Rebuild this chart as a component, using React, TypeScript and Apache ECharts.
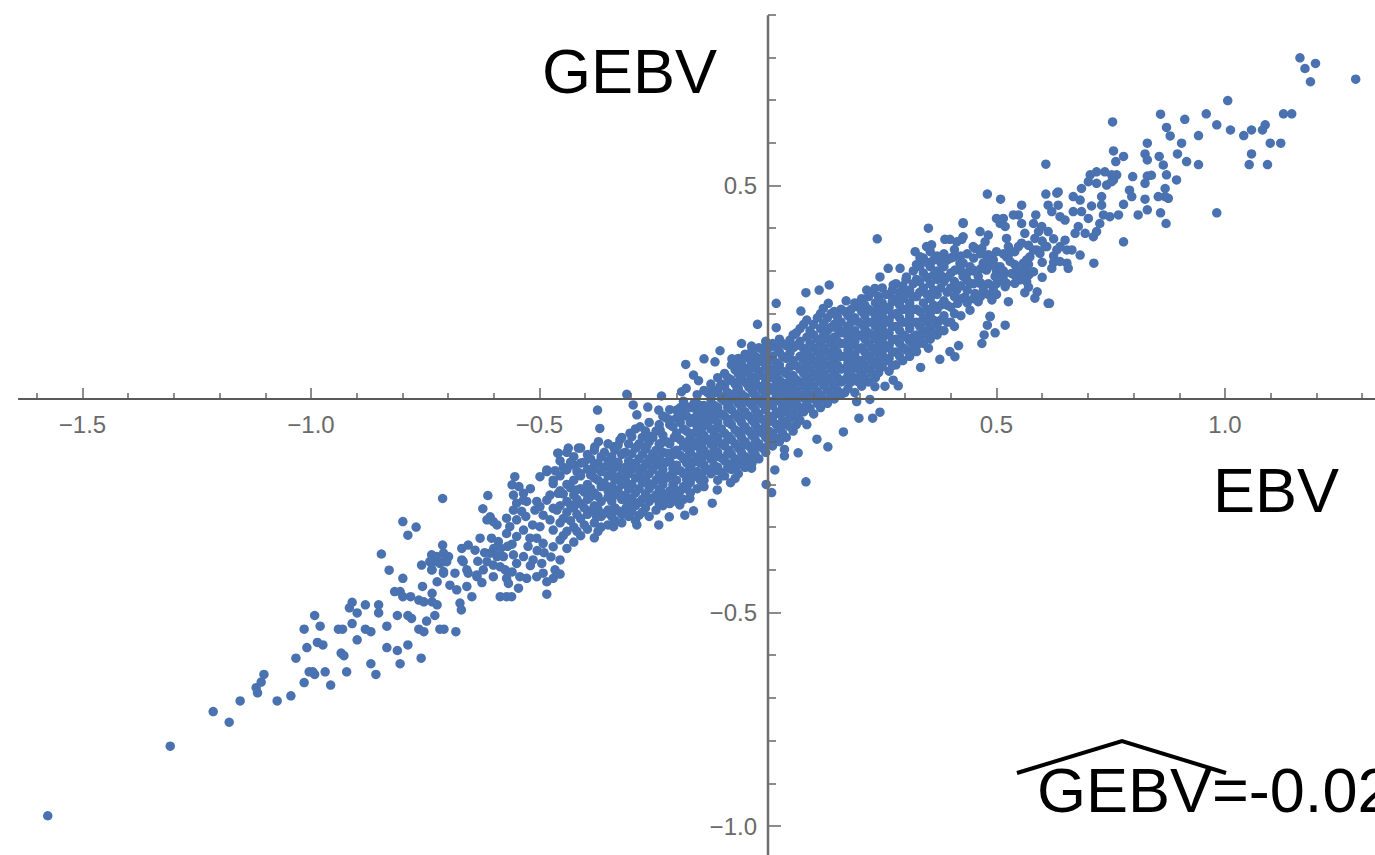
import React, { useEffect, useRef } from "react";
import * as echarts from "echarts";

const xAxisTickLabels = [-1.5, -1.0, -0.5, 0.5, 1.0];
const yAxisTickLabels = [0.5, -0.5, -1.0];
const axisXSpan = [-1.641, 1.5];
const axisYSpan = [0.899, -1.5];

const lowerTail: number[][] = [
  [-1.576,-0.976],[-1.308,-0.813],[-1.214,-0.732],[-1.179,-0.757],[-1.155,-0.707],[-1.117,-0.688],[-1.120,-0.676],[-1.109,-0.663],[-1.103,-0.645],
  [-1.074,-0.707],[-1.044,-0.695],[-1.015,-0.664],[-1.033,-0.607],[-1.009,-0.582],[-1.015,-0.539],[-0.992,-0.507],[-0.980,-0.532],[-0.986,-0.570],
  [-0.974,-0.576],[-1.004,-0.639],[-0.992,-0.645],[-0.996,-0.639],[-0.969,-0.639],[-0.957,-0.670],[-0.922,-0.639],[-0.934,-0.595],[-0.928,-0.601],
  [-0.940,-0.539],[-0.931,-0.539],[-0.910,-0.526],[-0.899,-0.564],[-0.869,-0.620],[-0.858,-0.645],[-0.881,-0.539],[-0.869,-0.545],[-0.899,-0.501],
  [-0.910,-0.476],[-0.916,-0.489],[-0.881,-0.482],[-0.852,-0.482],[-0.852,-0.501],[-0.834,-0.532],[-0.834,-0.582],[-0.811,-0.589],[-0.788,-0.576],
  [-0.805,-0.620],[-0.759,-0.607],[-0.811,-0.507],[-0.788,-0.507],[-0.780,-0.514],[-0.764,-0.539],[-0.753,-0.545],[-0.747,-0.520],[-0.729,-0.507],
  [-0.718,-0.539],[-0.709,-0.539],[-0.683,-0.545],[-0.829,-0.401],[-0.799,-0.420],[-0.817,-0.451],[-0.805,-0.451],[-0.799,-0.463],[-0.782,-0.463],
  [-0.764,-0.471],[-0.753,-0.475],[-0.735,-0.475],[-0.724,-0.482],[-0.756,-0.439],[-0.735,-0.455],[-0.674,-0.478],[-0.671,-0.494],[-0.724,-0.428],
  [-0.710,-0.408],[-0.685,-0.408],[-0.696,-0.436],[-0.681,-0.447],[-0.659,-0.439],[-0.648,-0.463],[-0.758,-0.389],[-0.736,-0.385],[-0.710,-0.381],
  [-0.667,-0.381],[-0.735,-0.400],[-0.656,-0.408],[-0.637,-0.416],
];

const lowerMiddle: number[][] = [
  [-0.712,-0.233],[-0.799,-0.287],[-0.770,-0.300],[-0.788,-0.319],[-0.846,-0.363],[-0.613,-0.226],[-0.554,-0.182],[-0.560,-0.201],[-0.624,-0.257],
  [-0.608,-0.276],[-0.615,-0.283],[-0.601,-0.287],[-0.593,-0.295],[-0.499,-0.182],[-0.484,-0.170],[-0.466,-0.168],[-0.460,-0.127],[-0.557,-0.225],
  [-0.535,-0.221],[-0.550,-0.244],[-0.528,-0.240],[-0.557,-0.260],[-0.539,-0.263],[-0.572,-0.279],[-0.550,-0.283],[-0.565,-0.299],[-0.535,-0.307],
  [-0.572,-0.315],[-0.550,-0.322],[-0.521,-0.326],[-0.506,-0.240],[-0.484,-0.237],[-0.470,-0.256],[-0.492,-0.272],[-0.477,-0.283],[-0.499,-0.299],
  [-0.470,-0.307],[-0.506,-0.326],[-0.492,-0.338],[-0.470,-0.346],[-0.514,-0.377],[-0.506,-0.416],[-0.492,-0.408],[-0.484,-0.428],[-0.484,-0.457],
  [-0.466,-0.400],[-0.455,-0.377],[-0.459,-0.221],[-0.470,-0.198],[-0.477,-0.225],[-0.630,-0.326],[-0.605,-0.326],[-0.590,-0.334],[-0.608,-0.361],
  [-0.593,-0.369],[-0.579,-0.369],[-0.615,-0.381],[-0.601,-0.389],[-0.586,-0.393],[-0.623,-0.400],[-0.601,-0.416],[-0.637,-0.412],[-0.626,-0.430],
  [-0.572,-0.420],[-0.568,-0.432],[-0.543,-0.416],[-0.528,-0.420],[-0.550,-0.385],[-0.535,-0.369],[-0.557,-0.365],[-0.586,-0.463],[-0.572,-0.463],
  [-0.561,-0.463],[-0.546,-0.443],[-0.712,-0.342],[-0.736,-0.365],[-0.725,-0.369],[-0.710,-0.361],[-0.699,-0.369],[-0.740,-0.381],[-0.718,-0.385],
  [-0.703,-0.381],[-0.736,-0.400],[-0.710,-0.404],[-0.670,-0.350],[-0.656,-0.342],[-0.641,-0.354],[-0.670,-0.377],[-0.659,-0.400],
  [-0.545,-0.205],[-0.52,-0.21],[-0.51,-0.26],[-0.53,-0.275],[-0.515,-0.295],[-0.56,-0.34],[-0.525,-0.345],[-0.505,-0.355],[-0.49,-0.36],[-0.475,-0.37],
  [-0.52,-0.39],[-0.495,-0.385],[-0.47,-0.42],[-0.455,-0.41],[-0.6,-0.35],[-0.585,-0.35],[-0.57,-0.345],[-0.62,-0.36],[-0.635,-0.38],[-0.575,-0.4],[-0.56,-0.405],
];

const coreOutliers: number[][] = [
  [-0.373,-0.026],[-0.368,-0.069],[-0.309,0.011],[-0.233,0.007],[-0.180,0.081],[-0.163,0.056],[-0.152,0.043],[-0.179,0.025],[-0.189,0.017],[-0.140,0.094],
  [-0.105,0.113],[-0.116,0.087],[-0.079,0.094],[-0.058,0.130],[-0.023,0.175],[0.018,0.224],[0.018,0.167],[-0.036,0.124],[-0.010,0.119],[0.012,0.126],
  [-0.111,-0.213],[-0.122,-0.244],[-0.004,-0.200],[0.008,-0.219],[0.015,-0.166],[-0.036,-0.162],[-0.041,-0.143],[-0.072,-0.186],[-0.082,-0.196],[-0.069,-0.159],
  [-0.171,-0.233],[-0.163,-0.262],[-0.182,-0.272],[-0.193,-0.248],[-0.216,-0.276],[-0.239,-0.295],[-0.287,-0.295],
  [0.239,0.375],[0.351,0.400],[0.427,0.413],[0.322,0.345],[0.333,0.329],[0.358,0.361],[0.387,0.374],[0.398,0.374],[0.424,0.374],[0.453,0.353],
  [0.134,0.267],[0.112,0.255],[0.083,0.249],[0.072,0.206],[0.171,0.230],[0.132,0.224],[0.121,0.212],[0.263,0.306],[0.289,0.306],[0.245,0.286],[0.303,0.286],
  [0.216,0.255],[0.234,0.259],[0.274,0.267],[0.616,0.224],[0.519,0.173],[0.497,0.155],[0.486,0.193],[0.480,0.173],[0.473,0.150],[0.468,0.130],
  [0.417,0.125],[0.398,0.111],[0.409,0.099],[0.376,0.093],[0.334,0.074],[0.351,0.119],[0.325,0.111],[0.285,0.031],[0.274,0.044],[0.256,0.030],[0.234,0.029],
  [0.223,-0.001],[0.194,-0.006],[0.245,-0.031],[0.229,-0.045],[0.199,-0.045],[0.165,-0.077],[0.131,-0.112],[0.107,-0.094],[0.066,-0.126],[0.036,-0.118],[0.036,-0.133],[0.083,-0.194],
];

// each row: x value, then the y values read along that column of the dense band
const coreBand: number[][] = [
  [-0.455,-0.145,-0.18,-0.215,-0.25,-0.29,-0.33],
  [-0.44,-0.125,-0.165,-0.2,-0.24,-0.265,-0.31,-0.35],
  [-0.425,-0.135,-0.155,-0.19,-0.225,-0.255,-0.3,-0.335],
  [-0.41,-0.115,-0.15,-0.18,-0.21,-0.245,-0.28,-0.32],
  [-0.395,-0.13,-0.165,-0.2,-0.235,-0.27,-0.305],
  [-0.38,-0.12,-0.155,-0.185,-0.22,-0.25,-0.29,-0.325],
  [-0.365,-0.135,-0.17,-0.205,-0.24,-0.275,-0.3],
  [-0.35,-0.105,-0.145,-0.18,-0.215,-0.23,-0.26,-0.295],
  [-0.335,-0.12,-0.16,-0.19,-0.225,-0.255,-0.285],
  [-0.32,-0.09,-0.13,-0.165,-0.2,-0.235,-0.27,-0.29],
  [-0.305,-0.105,-0.145,-0.175,-0.21,-0.245,-0.275],
  [-0.29,-0.07,-0.115,-0.15,-0.185,-0.22,-0.25,-0.285],
  [-0.275,-0.09,-0.13,-0.165,-0.195,-0.235,-0.265],
  [-0.26,-0.055,-0.1,-0.14,-0.175,-0.21,-0.24,-0.275],
  [-0.245,-0.075,-0.12,-0.155,-0.19,-0.225,-0.26],
  [-0.23,-0.04,-0.085,-0.125,-0.165,-0.2,-0.235,-0.25],
  [-0.215,-0.025,-0.06,-0.105,-0.145,-0.18,-0.215,-0.245],
  [-0.2,-0.045,-0.08,-0.12,-0.155,-0.19,-0.225,-0.24],
  [-0.185,-0.005,-0.035,-0.07,-0.11,-0.14,-0.175,-0.205,-0.235],
  [-0.17,-0.02,-0.055,-0.09,-0.125,-0.16,-0.195,-0.22],
  [-0.155,0.01,-0.03,-0.065,-0.1,-0.135,-0.17,-0.21],
  [-0.14,0.02,-0.015,-0.05,-0.085,-0.12,-0.155,-0.19,-0.205],
  [-0.125,0.035,0.0,-0.035,-0.07,-0.105,-0.14,-0.175],
  [-0.11,0.05,0.015,-0.02,-0.055,-0.09,-0.125,-0.16,-0.19],
  [-0.095,0.06,0.03,-0.005,-0.04,-0.08,-0.11,-0.145,-0.18],
  [-0.08,0.08,0.045,0.01,-0.025,-0.06,-0.095,-0.13,-0.165],
  [-0.065,0.095,0.06,0.025,-0.01,-0.045,-0.08,-0.115,-0.15,-0.175],
  [-0.05,0.105,0.07,0.04,0.005,-0.03,-0.065,-0.1,-0.135,-0.16],
  [-0.035,0.115,0.085,0.05,0.02,-0.015,-0.05,-0.085,-0.12,-0.15],
  [-0.02,0.12,0.095,0.065,0.03,0.0,-0.035,-0.07,-0.105,-0.14],
  [-0.005,0.135,0.105,0.075,0.04,0.01,-0.025,-0.06,-0.09,-0.125],
  [0.01,0.13,0.1,0.07,0.05,0.02,-0.015,-0.045,-0.08,-0.11],
  [0.025,0.14,0.11,0.08,0.045,0.025,-0.005,-0.035,-0.07,-0.1],
  [0.04,0.125,0.095,0.06,0.03,0.0,-0.03,-0.06,-0.09],
  [0.055,0.15,0.12,0.09,0.055,0.035,0.005,-0.025,-0.075],
  [0.07,0.165,0.135,0.1,0.07,0.04,0.01,-0.02,-0.05],
  [0.085,0.185,0.145,0.11,0.08,0.05,0.02,-0.01,-0.06],
  [0.1,0.175,0.15,0.12,0.09,0.06,0.03,0.0,-0.035],
  [0.115,0.2,0.165,0.13,0.1,0.07,0.04,0.01,-0.02],
  [0.13,0.19,0.16,0.14,0.11,0.08,0.05,0.02,-0.01],
  [0.145,0.205,0.175,0.145,0.12,0.09,0.06,0.03,0.0],
  [0.16,0.21,0.18,0.155,0.13,0.1,0.07,0.04,0.01],
  [0.175,0.195,0.17,0.145,0.115,0.085,0.055,0.025],
  [0.19,0.225,0.19,0.16,0.135,0.105,0.08,0.05,0.015],
  [0.205,0.235,0.205,0.175,0.15,0.12,0.09,0.06,0.03],
  [0.22,0.24,0.21,0.18,0.155,0.13,0.1,0.07,0.04],
  [0.235,0.225,0.195,0.17,0.14,0.11,0.08,0.05],
  [0.25,0.26,0.225,0.195,0.165,0.135,0.105,0.075],
  [0.265,0.245,0.215,0.185,0.155,0.125,0.095,0.065],
  [0.28,0.27,0.235,0.2,0.17,0.14,0.11,0.08],
  [0.295,0.265,0.235,0.21,0.18,0.15,0.12,0.09],
  [0.31,0.255,0.225,0.195,0.165,0.135,0.1],
  [0.325,0.315,0.28,0.24,0.21,0.18,0.15,0.125],
  [0.34,0.33,0.295,0.26,0.225,0.19,0.16,0.13],
  [0.355,0.345,0.31,0.27,0.235,0.2,0.165,0.14],
  [0.37,0.335,0.3,0.28,0.245,0.21,0.175,0.15],
  [0.385,0.34,0.31,0.275,0.23,0.195,0.16],
  [0.4,0.33,0.295,0.26,0.215,0.18],
];

// second pass over the same band: marks lying between the first pass's rows
const coreInfill: number[][] = [
  [-0.448,-0.16,-0.222,-0.28,-0.32],
  [-0.432,-0.148,-0.208,-0.248,-0.285],
  [-0.418,-0.17,-0.235,-0.27,-0.31],
  [-0.402,-0.148,-0.218,-0.255,-0.295],
  [-0.388,-0.14,-0.178,-0.21,-0.262],
  [-0.372,-0.15,-0.19,-0.228,-0.258,-0.31],
  [-0.358,-0.125,-0.16,-0.198,-0.268],
  [-0.342,-0.135,-0.17,-0.205,-0.24,-0.275],
  [-0.328,-0.108,-0.148,-0.182,-0.215,-0.262],
  [-0.312,-0.125,-0.16,-0.19,-0.225,-0.258],
  [-0.298,-0.088,-0.128,-0.165,-0.2,-0.232,-0.265],
  [-0.282,-0.105,-0.14,-0.178,-0.21,-0.242,-0.272],
  [-0.268,-0.075,-0.118,-0.155,-0.185,-0.222,-0.255],
  [-0.252,-0.09,-0.128,-0.165,-0.2,-0.232],
  [-0.238,-0.06,-0.105,-0.14,-0.178,-0.212,-0.245],
  [-0.222,-0.045,-0.1,-0.148,-0.185,-0.225],
  [-0.208,-0.065,-0.125,-0.162,-0.2,-0.232],
  [-0.192,-0.02,-0.055,-0.095,-0.132,-0.168,-0.215],
  [-0.178,-0.04,-0.075,-0.115,-0.15,-0.188,-0.21],
  [-0.162,-0.01,-0.045,-0.08,-0.11,-0.148,-0.182],
  [-0.148,-0.015,-0.05,-0.083,-0.118,-0.15,-0.19],
  [-0.132,0.015,-0.022,-0.06,-0.095,-0.13,-0.165],
  [-0.118,0.02,-0.015,-0.048,-0.085,-0.118,-0.155],
  [-0.102,0.035,0.0,-0.035,-0.07,-0.105,-0.138,-0.172],
  [-0.088,0.05,0.015,-0.02,-0.055,-0.095,-0.128,-0.16],
  [-0.072,0.068,0.035,0.0,-0.035,-0.072,-0.105,-0.14],
  [-0.058,0.082,0.048,0.012,-0.02,-0.055,-0.09,-0.125],
  [-0.042,0.095,0.06,0.028,-0.008,-0.04,-0.075,-0.11,-0.14],
  [-0.028,0.1,0.072,0.04,0.008,-0.025,-0.06,-0.095,-0.13],
  [-0.012,0.115,0.088,0.055,0.02,-0.012,-0.048,-0.08,-0.115],
  [0.002,0.12,0.09,0.058,0.028,-0.005,-0.04,-0.075,-0.105],
  [0.018,0.12,0.085,0.06,0.035,0.005,-0.03,-0.06,-0.092],
  [0.032,0.13,0.1,0.065,0.038,0.012,-0.018,-0.05,-0.08],
  [0.048,0.138,0.108,0.075,0.045,0.018,-0.012,-0.045,-0.065],
  [0.062,0.155,0.125,0.078,0.045,0.02,-0.01,-0.04,-0.06],
  [0.078,0.175,0.118,0.09,0.06,0.03,0.002,-0.03],
  [0.092,0.16,0.13,0.1,0.07,0.04,0.01,-0.022],
  [0.108,0.19,0.14,0.11,0.08,0.05,0.018,-0.01],
  [0.122,0.178,0.15,0.12,0.09,0.06,0.032,0.0],
  [0.138,0.2,0.168,0.13,0.1,0.07,0.04,0.01],
  [0.152,0.192,0.165,0.135,0.11,0.08,0.05,0.02],
  [0.168,0.205,0.16,0.13,0.1,0.072,0.045,0.015],
  [0.182,0.21,0.18,0.155,0.125,0.095,0.068,0.04],
  [0.198,0.215,0.18,0.148,0.118,0.09,0.07,0.04],
  [0.212,0.22,0.195,0.165,0.14,0.11,0.08,0.05],
  [0.228,0.25,0.205,0.18,0.15,0.12,0.09,0.06],
  [0.242,0.24,0.21,0.18,0.152,0.122,0.092,0.062],
  [0.258,0.245,0.21,0.18,0.15,0.12,0.09],
  [0.272,0.255,0.228,0.198,0.17,0.138,0.11,0.078],
  [0.288,0.25,0.22,0.19,0.16,0.13,0.1],
  [0.302,0.28,0.245,0.21,0.18,0.145,0.115],
  [0.318,0.3,0.27,0.24,0.21,0.18,0.145,0.118],
  [0.332,0.31,0.275,0.25,0.205,0.17,0.14],
  [0.348,0.32,0.285,0.245,0.21,0.18,0.15],
  [0.362,0.325,0.29,0.255,0.22,0.185,0.155],
  [0.378,0.32,0.29,0.26,0.22,0.185,0.16],
  [0.392,0.325,0.285,0.25,0.22,0.18],
  [0.408,0.35,0.275,0.24,0.2,0.17],
  [0.422,0.335,0.3,0.265,0.235,0.195],
  [0.436,0.34,0.295,0.255,0.225],
  [0.45,0.33,0.3,0.27,0.235],
  [0.465,0.34,0.305,0.272,0.24],
  [0.482,0.338,0.31,0.27,0.245],
  [0.5,0.345,0.3,0.27,0.245],
  [0.515,0.34,0.3,0.29],
  [0.54,0.345,0.315,0.29],
  [0.57,0.36,0.315,0.29,0.262],
  [0.6,0.37,0.32,0.285],
  [0.625,0.375,0.335,0.32],
  [-0.265,-0.11,-0.15,-0.195,-0.23],
  [-0.235,-0.105,-0.145,-0.185,-0.215],
  [-0.205,-0.09,-0.13,-0.17,-0.21],
  [-0.175,-0.1,-0.135,-0.17,-0.2],
  [-0.145,-0.03,-0.068,-0.105,-0.14,-0.175],
  [-0.115,-0.035,-0.07,-0.1,-0.135,-0.168],
  [-0.085,-0.012,-0.048,-0.088,-0.12,-0.152],
  [-0.055,-0.005,-0.038,-0.072,-0.108,-0.142],
  [-0.025,-0.005,-0.042,-0.078,-0.112],
  [0.005,-0.008,-0.052,-0.085],
];

const bandShoulders: number[][] = [
  [-0.295,-0.014],[-0.287,-0.037],[-0.263,-0.019],[-0.239,-0.026],[-0.2,-0.026],[-0.178,-0.018],[-0.156,-0.010],[-0.134,-0.018],[-0.214,-0.049],[-0.193,-0.041],
  [-0.163,-0.049],[-0.134,-0.041],[-0.112,-0.033],[-0.149,-0.026],[-0.105,0.029],[-0.083,0.044],[-0.061,0.060],[-0.039,0.076],[-0.018,0.091],[-0.025,0.052],
  [-0.047,0.037],[-0.068,0.021],[-0.090,0.013],[-0.003,0.052],[-0.010,0.021],[-0.032,0.013],[-0.054,0.005],[-0.120,0.013],[-0.047,0.099],[-0.068,0.076],[-0.025,0.083],[-0.061,0.044],
  [-0.324,-0.096],[-0.338,-0.112],[-0.302,-0.080],[-0.280,-0.065],[-0.317,-0.127],[-0.287,-0.112],[-0.258,-0.088],[-0.236,-0.073],[-0.346,-0.151],[-0.317,-0.174],
  [-0.287,-0.159],[-0.251,-0.143],[-0.222,-0.127],[-0.360,-0.197],[-0.331,-0.213],[-0.302,-0.205],[-0.265,-0.197],[-0.229,-0.182],[-0.207,-0.166],[-0.382,-0.166],
  [-0.411,-0.174],[-0.441,-0.166],[-0.470,-0.190],[-0.455,-0.221],[-0.419,-0.213],[-0.389,-0.229],[-0.426,-0.252],[-0.462,-0.260],[-0.499,-0.252],[-0.535,-0.237],
  [-0.346,-0.268],[-0.309,-0.252],[-0.375,-0.276],[-0.338,-0.299],[-0.459,-0.127],[-0.437,-0.115],[-0.415,-0.115],[-0.379,-0.112],[-0.371,-0.100],[-0.484,-0.166],
  [0.380,0.318],[0.405,0.333],[0.427,0.318],[0.449,0.302],[0.479,0.326],[0.500,0.310],[0.522,0.333],[0.544,0.302],[0.566,0.326],[0.588,0.349],[0.610,0.357],[0.632,0.349],
  [0.435,0.279],[0.464,0.271],[0.493,0.263],[0.522,0.271],[0.551,0.279],[0.573,0.294],[0.333,0.333],[0.347,0.357],
];

const upperMiddle: number[][] = [
  [0.493,0.326],[0.471,0.318],[0.508,0.310],[0.478,0.302],[0.497,0.287],[0.460,0.287],[0.515,0.279],[0.442,0.310],[0.420,0.318],[0.427,0.287],[0.442,0.271],
  [0.409,0.302],[0.471,0.255],[0.493,0.255],[0.519,0.263],[0.540,0.271],[0.559,0.302],[0.566,0.275],[0.453,0.247],[0.431,0.239],[0.460,0.228],[0.490,0.232],
  [0.442,0.208],[0.413,0.255],[0.406,0.333],[0.415,0.224],[0.427,0.411],[0.427,0.380],[0.413,0.368],[0.464,0.392],[0.482,0.384],[0.475,0.368],[0.468,0.353],
  [0.449,0.357],[0.522,0.376],[0.526,0.357],[0.526,0.337],[0.530,0.322],[0.589,0.251],[0.584,0.236],[0.613,0.224],[0.562,0.249],[0.526,0.228],[0.486,0.194],
  [0.480,0.480],[0.509,0.468],[0.555,0.454],[0.548,0.431],[0.555,0.411],[0.537,0.431],[0.562,0.388],[0.500,0.423],[0.515,0.423],[0.508,0.411],[0.519,0.404],
  [0.606,0.357],[0.595,0.341],[0.581,0.349],[0.555,0.365],[0.573,0.333],[0.548,0.357],[0.559,0.318],[0.581,0.298],[0.548,0.302],[0.555,0.287],[0.533,0.294],
  [0.586,0.431],[0.599,0.404],[0.613,0.392],[0.581,0.411],[0.592,0.392],[0.584,0.376],[0.613,0.454],[0.635,0.454],[0.621,0.439],[0.608,0.480],[0.635,0.485],
  [0.668,0.474],[0.683,0.466],[0.708,0.452],[0.686,0.439],[0.668,0.439],[0.701,0.423],[0.650,0.419],[0.639,0.427],[0.679,0.404],[0.694,0.388],[0.672,0.388],
  [0.683,0.337],[0.665,0.349],[0.650,0.372],[0.639,0.357],[0.654,0.349],[0.639,0.322],[0.654,0.318],[0.657,0.306],[0.621,0.306],[0.632,0.482],[0.608,0.550],
];

const upperTail: number[][] = [
  [0.754,0.649],[0.859,0.667],[0.912,0.655],[0.872,0.636],[0.880,0.616],[0.830,0.599],[0.905,0.599],[0.896,0.574],[0.916,0.556],[0.756,0.581],[0.778,0.568],
  [0.761,0.556],[0.825,0.574],[0.830,0.560],[0.856,0.568],[0.865,0.548],[0.798,0.521],[0.830,0.522],[0.825,0.505],[0.872,0.525],[0.894,0.513],[0.869,0.493],
  [0.869,0.474],[0.854,0.474],[0.876,0.470],[0.791,0.489],[0.796,0.474],[0.825,0.468],[0.830,0.443],[0.810,0.431],[0.859,0.436],[0.871,0.411],[0.778,0.456],
  [0.778,0.368],[0.713,0.318],[0.767,0.431],[0.748,0.427],[0.734,0.431],[0.726,0.411],[0.719,0.392],[0.712,0.380],[0.763,0.525],[0.756,0.513],[0.741,0.501],
  [0.730,0.474],[0.730,0.454],[0.705,0.525],[0.719,0.532],[0.737,0.532],[0.752,0.525],[0.701,0.509],[0.719,0.505],[0.686,0.493],[0.839,0.524],[0.752,0.509],
  [1.164,0.799],[1.175,0.774],[1.198,0.786],[1.187,0.743],[1.286,0.749],[1.006,0.699],[0.959,0.668],[0.982,0.642],[1.012,0.630],[1.041,0.617],[1.058,0.630],
  [1.082,0.630],[1.088,0.642],[0.942,0.617],[1.128,0.668],[1.146,0.668],[1.099,0.599],[1.122,0.599],[1.058,0.574],[1.053,0.549],[1.093,0.549],[0.942,0.549],[0.982,0.436],
];

const columnsToPoints = (rows: number[][]) => rows.flatMap((row) => row.slice(1).map((y) => [row[0], y]));
const allPoints = [
  ...lowerTail, ...lowerMiddle, ...coreOutliers, ...columnsToPoints(coreBand), ...columnsToPoints(coreInfill), ...bandShoulders, ...upperMiddle, ...upperTail,
];

const TEXT_FONT = '63px "Liberation Sans", Arial, sans-serif';
const AXIS_COLOR = "#666666";
const LABEL_COLOR = "#6a6a6a";
const POINT_COLOR = "#4a72b0";

const tickText = (allowed: number[]) => (v: number) =>
  allowed.some((a) => Math.abs(a - v) < 1e-6) ? (v < 0 ? "\u2212" : "") + Math.abs(v).toFixed(1) : "";

export default function App() {
  const ref = useRef<HTMLDivElement>(null);
  useEffect(() => {
    document.body.style.margin = "0";
    const chart = echarts.init(ref.current!, null, { renderer: "svg" });
    const axisBase = {
      type: "value" as const,
      z: 5,
      interval: 0.5,
      splitLine: { show: false },
      minorSplitLine: { show: false },
    };
    chart.setOption({
      animation: false,
      backgroundColor: "#ffffff",
      grid: { left: -146, top: -28, width: 1599.5, height: 1067.5, containLabel: false, outerBoundsMode: "none" },
      xAxis: {
        ...axisBase,
        min: -2.0,
        max: 1.5,
        axisLine: { show: true, onZero: true, lineStyle: { opacity: 0 } },
        axisTick: { show: true, inside: true, length: 11, lineStyle: { color: AXIS_COLOR, width: 1.5 } },
        minorTick: { show: true, splitNumber: 5, length: 6, lineStyle: { color: AXIS_COLOR, width: 1.5 } },
        axisLabel: {
          show: true, showMinLabel: false, showMaxLabel: false, margin: -627,
          color: LABEL_COLOR, fontSize: 24, fontFamily: "Liberation Sans",
          formatter: tickText(xAxisTickLabels),
        },
      },
      yAxis: {
        ...axisBase,
        min: -1.5,
        max: 1.0,
        axisLine: { show: true, onZero: true, lineStyle: { opacity: 0 } },
        axisTick: { show: true, inside: true, length: 13, lineStyle: { color: AXIS_COLOR, width: 1.5 } },
        minorTick: { show: true, splitNumber: 5, length: 8, lineStyle: { color: AXIS_COLOR, width: 1.5 } },
        axisLabel: {
          show: true, showMinLabel: false, showMaxLabel: false, margin: -903,
          color: LABEL_COLOR, fontSize: 24, fontFamily: "Liberation Sans",
          formatter: tickText(yAxisTickLabels),
        },
      },
      series: [
        {
          type: "scatter", data: allPoints, symbol: "circle", symbolSize: 9.5, silent: true, z: 2,
          itemStyle: { color: POINT_COLOR, opacity: 1 },
        },
        {
          type: "line", data: [[axisXSpan[0], 0], [axisXSpan[1], 0]], symbol: "none", silent: true, z: 6,
          lineStyle: { color: "#5a5a5a", width: 2 },
        },
        {
          type: "line", data: [[0, axisYSpan[0]], [0, axisYSpan[1]]], symbol: "none", silent: true, z: 6,
          lineStyle: { color: "#6e6e6e", width: 2.5 },
        },
      ],
      graphic: [
        { type: "text", style: { text: "GEBV", x: 542, y: 71, font: TEXT_FONT, fill: "#000", textVerticalAlign: "middle" } },
        { type: "text", style: { text: "EBV", x: 1213, y: 490, font: TEXT_FONT, fill: "#000", textVerticalAlign: "middle" } },
        { type: "text", style: { text: "GEBV=-0.02", x: 1037, y: 790, font: TEXT_FONT, fill: "#000", textVerticalAlign: "middle" } },
        {
          type: "polyline",
          shape: { points: [[1017, 773], [1122, 741], [1226, 773]] },
          style: { stroke: "#000", lineWidth: 4, fill: "none" },
        },
      ],
    });
    return () => chart.dispose();
  }, []);
  return <div ref={ref} style={{ width: 1375, height: 855, overflow: "hidden" }} />;
}
